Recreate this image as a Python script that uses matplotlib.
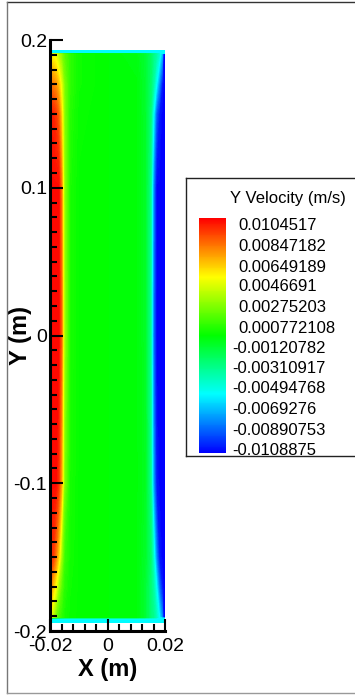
import numpy as np
import matplotlib
matplotlib.use("Agg")
import matplotlib.pyplot as plt
from matplotlib.colors import LinearSegmentedColormap, Normalize
from matplotlib.lines import Line2D
from matplotlib.ticker import MultipleLocator

plt.rcParams['font.family'] = ['Liberation Sans', 'DejaVu Sans']
plt.rcParams['axes.unicode_minus'] = False

# grid of the cavity section (m)
xs = [-0.02, -0.0195, -0.019, -0.018, -0.017, -0.016, -0.015, -0.013, -0.01, 0.0,
      0.01, 0.013, 0.015, 0.016, 0.017, 0.018, 0.019, 0.0195, 0.02]
ys = [-0.194, -0.1915, -0.1908, -0.17, -0.15, -0.1, 0.0, 0.1, 0.15, 0.17,
      0.1905, 0.1912, 0.193]

# Y velocity, in 1e-3 m/s, one row per y (bottom to top)
wall_row = [-5.5] * 19
vy_rows = [
    wall_row,
    wall_row,
    [6, 5, 4, 2.5, 1.5, 1.0, 0.5, 0.2, 0.1, 0, -0.1, -1.0, -2.5, -3.0, -4.0, -5.5, -8.0, -11, -11],
    [8.5, 8, 7, 5.5, 3.5, 2, 0.9, 0.3, 0.1, 0, -0.1, -1.0, -2.5, -3.5, -5.5, -8.5, -10.5, -11, -11],
    [10.5, 10, 10, 8.5, 6.5, 3.5, 1.3, 0.4, 0.1, 0, -0.1, -0.8, -2.2, -4.5, -8, -10.5, -11, -11, -11],
    [11, 11, 11, 11, 10, 7.5, 2.8, 0.5, 0.1, 0, -0.1, -0.6, -3, -7.5, -10.5, -11, -11, -11, -11],
    [11, 11, 11, 11, 11, 9, 3.5, 0.6, 0.1, 0, -0.1, -0.7, -3.2, -8.5, -11, -11, -11, -11, -11],
    [11, 11, 11, 11, 11, 8.5, 3.2, 0.6, 0.1, 0, -0.1, -0.7, -3, -8, -11, -11, -11, -11, -11],
    [10.5, 10.5, 10.5, 10, 9, 6.5, 3, 0.8, 0.2, 0, -0.1, -0.8, -2.5, -5.5, -9, -10.5, -11, -11, -11],
    [8, 8.5, 8.5, 8, 7, 5, 2.8, 1, 0.3, 0, -0.1, -0.9, -2.2, -3.5, -5.5, -8, -10.5, -11, -11],
    [3, 5, 5.5, 5, 4, 3, 2, 1, 0.3, 0, -0.3, -1, -2, -2.8, -3.5, -4.5, -7, -11, -11],
    wall_row,
    wall_row,
]

legend_labels = ["0.0104517", "0.00847182", "0.00649189", "0.0046691", "0.00275203",
                 "0.000772108", "-0.00120782", "-0.00310917", "-0.00494768",
                 "-0.0069276", "-0.00890753", "-0.0108875"]
vmin, vmax = -0.01108, 0.01121

cmap = LinearSegmentedColormap.from_list(
    "small_rainbow", ["#0000ff", "#00ffff", "#00ff00", "#ffff00", "#ff0000"])
norm = Normalize(vmin=vmin, vmax=vmax)

fig = plt.figure(figsize=(3.55, 6.95), dpi=100)


def fig_line(x0, y0, x1, y1, color):
    # pixel coords from the top-left corner
    fig.add_artist(Line2D([x0 / 355, x1 / 355], [1 - y0 / 695, 1 - y1 / 695],
                          transform=fig.transFigure, color=color, linewidth=1.0))


# outer frame (open on the right)
fig_line(7, 2, 355, 2, '#333333')
fig_line(7, 2, 7, 693, '#777777')
fig_line(7, 693, 355, 693, '#999999')

ax = fig.add_axes([50 / 355, 64 / 695, 115 / 355, 591 / 695])
X, Y = np.meshgrid(xs, ys)
V = np.array(vy_rows) * 1e-3
ax.contourf(X, Y, V, levels=np.linspace(vmin, vmax, 160), cmap=cmap, norm=norm,
            extend='both')

ax.set_xlim(-0.02, 0.02)
ax.set_ylim(-0.2, 0.2)
ax.spines['top'].set_visible(False)
ax.spines['right'].set_visible(False)
for s in ('left', 'bottom'):
    ax.spines[s].set_linewidth(2.2)
ax.set_xticks([-0.02, 0, 0.02])
ax.set_xticklabels(["-0.02", "0", "0.02"])
ax.set_yticks([-0.2, -0.1, 0, 0.1, 0.2])
ax.set_yticklabels(["-0.2", "-0.1", "0", "0.1", "0.2"])
ax.xaxis.set_minor_locator(MultipleLocator(0.004))
ax.yaxis.set_minor_locator(MultipleLocator(0.01))
ax.tick_params(which='both', direction='in', width=1.5, top=False, right=False,
               labelsize=14)
ax.tick_params(which='major', length=9)
ax.tick_params(which='minor', length=5)
ax.tick_params(axis='y', pad=2)
ax.tick_params(axis='x', pad=5)
ax.set_xlabel("X (m)", fontsize=17, fontweight='bold', labelpad=2)
ax.set_ylabel("Y (m)", fontsize=17, fontweight='bold')
ax.yaxis.set_label_coords(-0.155, 0.5)

# legend box (open on the right)
fig_line(186, 178, 355, 178, '#222222')
fig_line(186, 178, 186, 456, '#222222')
fig_line(186, 456, 355, 456, '#222222')
fig.text(230 / 355, 1 - 198 / 695, "Y Velocity (m/s)", fontsize=12,
         ha='left', va='center')

cax = fig.add_axes([199 / 355, 242 / 695, 27 / 355, 235 / 695])
sm = plt.cm.ScalarMappable(norm=norm, cmap=cmap)
cb = fig.colorbar(sm, cax=cax)
cb.outline.set_visible(False)
cax.set_yticks([])
for lab in legend_labels:
    xpos = 1.22 if lab.startswith('-') else 1.44
    cax.text(xpos, float(lab), lab, transform=cax.get_yaxis_transform(),
             fontsize=12, ha='left', va='center')

fig.savefig("out.png", dpi=100)
